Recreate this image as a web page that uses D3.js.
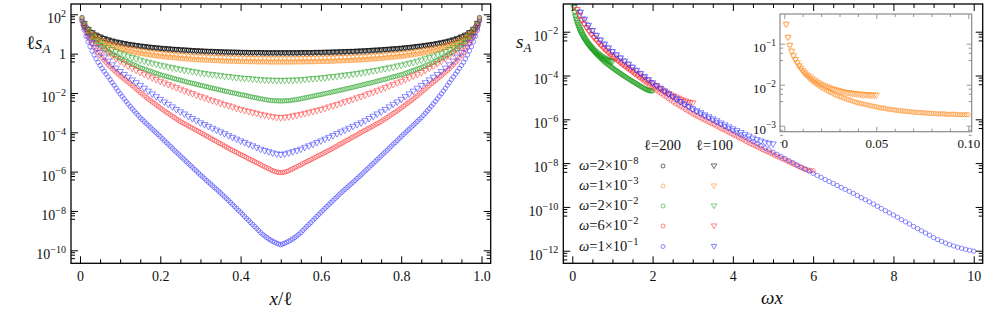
<!DOCTYPE html>
<html>
<head>
<meta charset="utf-8">
<script src="https://cdn.jsdelivr.net/npm/d3@7"></script>
<style>
  body { margin: 0; background: #fff; }
</style>
</head>
<body>
<div id="chart"></div>
<script>
// log10(l * s_A) on the sites x = 1 .. l/2 (the chain is symmetric about l/2)
var w2e8_L200 = [1.84,1.54,1.37,1.24,1.15,1.07,1.00,0.94,0.89,0.85,
  0.81,0.77,0.73,0.70,0.67,0.64,0.62,0.59,0.57,0.55,
  0.53,0.51,0.49,0.47,0.46,0.44,0.43,0.41,0.40,0.38,
  0.37,0.36,0.35,0.33,0.32,0.31,0.30,0.29,0.28,0.27,
  0.26,0.25,0.24,0.24,0.23,0.22,0.21,0.21,0.20,0.19,
  0.18,0.18,0.17,0.17,0.16,0.15,0.15,0.14,0.14,0.13,
  0.13,0.12,0.12,0.11,0.11,0.11,0.10,0.10,0.09,0.09,
  0.09,0.08,0.08,0.08,0.07,0.07,0.07,0.07,0.06,0.06,
  0.06,0.06,0.06,0.05,0.05,0.05,0.05,0.05,0.05,0.05,
  0.04,0.04,0.04,0.04,0.04,0.04,0.04,0.04,0.04,0.04];
var w2e8_L100 = [1.55,1.25,1.08,0.95,0.86,0.78,0.71,0.65,0.60,0.56,
  0.52,0.48,0.45,0.42,0.39,0.37,0.34,0.32,0.30,0.28,
  0.26,0.25,0.23,0.22,0.20,0.19,0.18,0.16,0.15,0.14,
  0.13,0.12,0.12,0.11,0.10,0.09,0.09,0.08,0.08,0.07,
  0.07,0.06,0.06,0.06,0.06,0.05,0.05,0.05,0.05,0.05];
var w1e3_L200 = [1.78,1.46,1.27,1.12,1.01,0.92,0.84,0.76,0.70,0.64,
  0.58,0.53,0.49,0.44,0.40,0.37,0.33,0.30,0.27,0.24,
  0.21,0.19,0.16,0.14,0.12,0.10,0.07,0.05,0.03,0.01,
  0.00,-0.02,-0.04,-0.05,-0.07,-0.08,-0.10,-0.11,-0.13,-0.14,
  -0.15,-0.16,-0.17,-0.18,-0.19,-0.20,-0.21,-0.22,-0.23,-0.24,
  -0.25,-0.26,-0.27,-0.27,-0.28,-0.29,-0.30,-0.30,-0.31,-0.32,
  -0.32,-0.33,-0.33,-0.34,-0.34,-0.35,-0.35,-0.36,-0.36,-0.37,
  -0.37,-0.37,-0.38,-0.38,-0.38,-0.39,-0.39,-0.39,-0.40,-0.40,
  -0.40,-0.40,-0.41,-0.41,-0.41,-0.41,-0.41,-0.42,-0.42,-0.42,
  -0.42,-0.42,-0.42,-0.43,-0.43,-0.43,-0.43,-0.43,-0.43,-0.43];
var w1e3_L100 = [1.48,1.16,0.96,0.82,0.71,0.62,0.54,0.47,0.41,0.35,
  0.30,0.26,0.22,0.19,0.15,0.12,0.09,0.06,0.04,0.01,
  -0.01,-0.03,-0.05,-0.06,-0.08,-0.10,-0.11,-0.12,-0.14,-0.15,
  -0.16,-0.17,-0.18,-0.19,-0.19,-0.20,-0.21,-0.21,-0.22,-0.22,
  -0.23,-0.23,-0.24,-0.24,-0.24,-0.25,-0.25,-0.25,-0.25,-0.25];
var w2e2_L200 = [1.77,1.43,1.22,1.05,0.92,0.81,0.70,0.60,0.51,0.43,
  0.35,0.27,0.19,0.12,0.05,-0.01,-0.07,-0.13,-0.18,-0.24,
  -0.29,-0.34,-0.39,-0.44,-0.49,-0.54,-0.58,-0.62,-0.67,-0.71,
  -0.75,-0.78,-0.82,-0.86,-0.89,-0.93,-0.97,-1.00,-1.04,-1.07,
  -1.10,-1.13,-1.16,-1.18,-1.21,-1.24,-1.27,-1.30,-1.32,-1.35,
  -1.38,-1.40,-1.43,-1.46,-1.48,-1.51,-1.53,-1.56,-1.58,-1.61,
  -1.63,-1.66,-1.68,-1.71,-1.73,-1.76,-1.78,-1.80,-1.83,-1.85,
  -1.87,-1.90,-1.92,-1.94,-1.97,-1.99,-2.01,-2.03,-2.06,-2.08,
  -2.10,-2.12,-2.14,-2.17,-2.19,-2.21,-2.23,-2.25,-2.27,-2.30,
  -2.31,-2.33,-2.35,-2.36,-2.38,-2.39,-2.39,-2.40,-2.40,-2.41];
var w2e2_L100 = [1.47,1.12,0.90,0.71,0.56,0.43,0.32,0.22,0.12,0.03,
  -0.05,-0.12,-0.19,-0.25,-0.32,-0.37,-0.43,-0.48,-0.53,-0.58,
  -0.62,-0.67,-0.71,-0.75,-0.79,-0.83,-0.86,-0.90,-0.93,-0.97,
  -1.00,-1.03,-1.06,-1.08,-1.11,-1.14,-1.16,-1.18,-1.21,-1.23,
  -1.25,-1.26,-1.28,-1.30,-1.32,-1.33,-1.34,-1.34,-1.35,-1.35];
var w6e2_L200 = [1.71,1.32,1.06,0.84,0.66,0.49,0.33,0.18,0.05,-0.08,
  -0.21,-0.33,-0.44,-0.55,-0.65,-0.76,-0.85,-0.94,-1.03,-1.12,
  -1.20,-1.29,-1.37,-1.45,-1.53,-1.62,-1.71,-1.80,-1.88,-1.97,
  -2.05,-2.14,-2.22,-2.30,-2.38,-2.46,-2.53,-2.61,-2.68,-2.76,
  -2.83,-2.91,-2.98,-3.04,-3.11,-3.18,-3.25,-3.32,-3.38,-3.45,
  -3.51,-3.56,-3.62,-3.68,-3.73,-3.79,-3.84,-3.90,-3.95,-4.01,
  -4.07,-4.13,-4.18,-4.24,-4.29,-4.36,-4.41,-4.46,-4.53,-4.58,
  -4.63,-4.70,-4.75,-4.81,-4.87,-4.92,-4.97,-5.02,-5.08,-5.13,
  -5.18,-5.23,-5.28,-5.34,-5.39,-5.44,-5.49,-5.54,-5.59,-5.65,
  -5.70,-5.75,-5.80,-5.85,-5.90,-5.95,-5.99,-6.02,-6.04,-6.05];
var w6e2_L100 = [1.41,1.02,0.76,0.54,0.36,0.19,0.04,-0.11,-0.25,-0.38,
  -0.50,-0.62,-0.73,-0.84,-0.95,-1.04,-1.13,-1.22,-1.31,-1.40,
  -1.48,-1.56,-1.64,-1.72,-1.80,-1.88,-1.95,-2.02,-2.10,-2.17,
  -2.24,-2.31,-2.38,-2.44,-2.51,-2.58,-2.64,-2.70,-2.77,-2.83,
  -2.88,-2.93,-2.98,-3.03,-3.08,-3.12,-3.16,-3.20,-3.23,-3.25];
var w1e1_L200 = [1.65,1.20,0.88,0.60,0.36,0.14,-0.07,-0.26,-0.44,-0.60,
  -0.75,-0.90,-1.04,-1.18,-1.32,-1.47,-1.61,-1.76,-1.90,-2.04,
  -2.17,-2.30,-2.43,-2.56,-2.68,-2.80,-2.91,-3.03,-3.14,-3.26,
  -3.35,-3.45,-3.55,-3.64,-3.74,-3.84,-3.93,-4.03,-4.12,-4.22,
  -4.32,-4.42,-4.52,-4.61,-4.71,-4.81,-4.91,-5.01,-5.10,-5.20,
  -5.30,-5.39,-5.49,-5.59,-5.68,-5.78,-5.88,-5.97,-6.07,-6.17,
  -6.26,-6.35,-6.45,-6.54,-6.63,-6.72,-6.81,-6.90,-6.99,-7.08,
  -7.18,-7.28,-7.37,-7.47,-7.57,-7.67,-7.77,-7.87,-7.97,-8.07,
  -8.17,-8.28,-8.38,-8.48,-8.59,-8.69,-8.79,-8.89,-8.99,-9.10,
  -9.19,-9.27,-9.35,-9.42,-9.48,-9.54,-9.59,-9.64,-9.68,-9.72];
var w1e1_L100 = [1.35,0.90,0.58,0.30,0.06,-0.16,-0.37,-0.56,-0.73,-0.90,
  -1.05,-1.19,-1.33,-1.47,-1.61,-1.75,-1.90,-2.04,-2.18,-2.32,
  -2.45,-2.57,-2.70,-2.83,-2.95,-3.06,-3.18,-3.29,-3.40,-3.51,
  -3.60,-3.69,-3.79,-3.88,-3.97,-4.06,-4.16,-4.25,-4.34,-4.43,
  -4.51,-4.60,-4.68,-4.76,-4.85,-4.92,-4.98,-5.04,-5.09,-5.12];

var omegas = [2e-8, 1e-3, 2e-2, 6e-2, 1e-1];
var omegaMant = ["2", "1", "2", "6", "1"];
var omegaExp = ["−8", "−3", "−2", "−2", "−1"];
var chainSizes = [200, 100];
var colors = ["#000000", "#ff8a1c", "#1fa01f", "#ff2a2a", "#2a2aff"];

// tick labels
var leftXTicks = [0, 0.2, 0.4, 0.6, 0.8, 1.0];
var leftXLabels = ["0", "0.2", "0.4", "0.6", "0.8", "1.0"];
var leftYTicks = [1e2, 1, 1e-2, 1e-4, 1e-6, 1e-8, 1e-10];
var rightXTicks = [0, 2, 4, 6, 8, 10];
var rightYTicks = [1e-2, 1e-4, 1e-6, 1e-8, 1e-10, 1e-12];
var insetXTicks = [0, 0.05, 0.10];
var insetXLabels = ["0", "0.05", "0.10"];
var insetYTicks = [1e-1, 1e-2, 1e-3];
var logMinorFactors = [0.8, 0.6, 0.4];

var halfData = [
  [w2e8_L200, w2e8_L100],
  [w1e3_L200, w1e3_L100],
  [w2e2_L200, w2e2_L100],
  [w6e2_L200, w6e2_L100],
  [w1e1_L200, w1e1_L100]
];

var FONT = "'Liberation Serif', 'Times New Roman', 'DejaVu Serif', serif";

var svg = d3.select("#chart").append("svg")
    .attr("width", 1003)
    .attr("height", 325)
    .attr("font-family", FONT)
    .style("font-family", FONT);

var triSym = d3.symbol().type(d3.symbolTriangle).size(18);
var triSmall = d3.symbol().type(d3.symbolTriangle).size(13);

function logMinor(ticks) {
  var out = [];
  ticks.forEach(function(t) { logMinorFactors.forEach(function(f) { out.push(t * f); }); });
  return out;
}

function powLabel(sel, fs) {
  sel.each(function(d) {
    var t = d3.select(this), e = Math.round(Math.log10(d));
    t.text(null);
    if (e === 0) { t.text("1"); return; }
    t.attr("dy", "0.6em");
    t.append("tspan").text("10");
    t.append("tspan").attr("dy", -fs * 0.45).attr("font-size", fs * 0.72)
      .text(e < 0 ? "−" + (-e) : String(e));
  });
}

// frame with inward ticks on all four sides
function axes(g, x, y, c) {
  var xr = x.range(), yr = y.range();
  var left = xr[0], right = xr[1], bottom = yr[0], top = yr[1];
  var col = c.color || "#000";

  function put(gen, tx, ty) {
    var a = g.append("g").attr("transform", "translate(" + tx + "," + ty + ")").call(gen);
    a.select(".domain").remove();
    a.selectAll("line").attr("stroke", col).attr("stroke-width", c.tw || 1);
    a.attr("font-family", FONT).attr("font-size", c.fs);
    a.selectAll("text").attr("fill", "#111").style("font-family", FONT);
    return a;
  }
  // minor
  put(d3.axisBottom(x).tickValues(c.xMinor).tickSize(-c.minor).tickFormat(""), 0, bottom);
  put(d3.axisTop(x).tickValues(c.xMinor).tickSize(-c.minor).tickFormat(""), 0, top);
  put(d3.axisLeft(y).tickValues(c.yMinor).tickSize(-c.minor).tickFormat(""), left, 0);
  put(d3.axisRight(y).tickValues(c.yMinor).tickSize(-c.minor).tickFormat(""), right, 0);
  // major
  put(d3.axisBottom(x).tickValues(c.xMajor).tickSize(-c.major).tickPadding(c.xPad)
      .tickFormat(function(d, i) { return c.xLabels[i]; }), 0, bottom);
  put(d3.axisTop(x).tickValues(c.xMajor).tickSize(-c.major).tickFormat(""), 0, top);
  var ly = put(d3.axisLeft(y).tickValues(c.yMajor).tickSize(-c.major).tickPadding(c.yPad), left, 0);
  powLabel(ly.selectAll("text"), c.fs);
  put(d3.axisRight(y).tickValues(c.yMajor).tickSize(-c.major).tickFormat(""), right, 0);

  g.append("rect").attr("x", left).attr("y", top)
    .attr("width", right - left).attr("height", bottom - top)
    .attr("fill", "none").attr("stroke", col).attr("stroke-width", c.fw || 1.3);
}

function clipFor(id, x, y) {
  var xr = x.range(), yr = y.range();
  svg.append("clipPath").attr("id", id).append("rect")
    .attr("x", xr[0]).attr("y", yr[1]).attr("width", xr[1] - xr[0]).attr("height", yr[0] - yr[1]);
  return "url(#" + id + ")";
}

function marks(g, pts, x, y, color, tri) {
  if (tri) {
    g.selectAll(null).data(pts).enter().append("path")
      .attr("d", triSym)
      .attr("transform", function(d) { return "translate(" + x(d[0]) + "," + y(d[1]) + ") rotate(180)"; })
      .attr("fill", "none").attr("stroke", color).attr("stroke-width", 0.75).attr("stroke-opacity", 0.7);
  } else {
    g.selectAll(null).data(pts).enter().append("circle")
      .attr("cx", function(d) { return x(d[0]); })
      .attr("cy", function(d) { return y(d[1]); })
      .attr("r", 2.2)
      .attr("fill", "none").attr("stroke", color).attr("stroke-width", 0.75).attr("stroke-opacity", 0.7);
  }
}

// ---------- left panel: l s_A against x/l ----------
var xL = d3.scaleLinear().domain([-0.0224, 1.0229]).range([71, 490.7]);
var yL = d3.scaleLog().domain([Math.pow(10, -10.661), Math.pow(10, 2.524)]).range([263.3, 4]);

var gL = svg.append("g");
var pL = gL.append("g").attr("clip-path", clipFor("clipL", xL, yL));
halfData.forEach(function(pair, i) {
  pair.forEach(function(half, j) {
    var L = chainSizes[j], pts = [];
    for (var x = 1; x < L; x++) {
      var k = Math.min(x, L - x);
      pts.push([x / L, Math.pow(10, half[k - 1])]);
    }
    marks(pL, pts, xL, yL, colors[i], j === 1);
  });
});
axes(gL, xL, yL, {
  xMajor: leftXTicks, xLabels: leftXLabels,
  xMinor: d3.range(1, 20).filter(function(n) { return n % 4 !== 0; }).map(function(n) { return n * 0.05; }),
  yMajor: leftYTicks, yMinor: logMinor(leftYTicks),
  major: 7, minor: 4, fs: 14, xPad: 8, yPad: 5
});

// ---------- right panel: s_A against omega x ----------
var xR = d3.scaleLinear().domain([-0.2242, 10.224]).range([563.3, 982.7]);
var yR = d3.scaleLog().domain([Math.pow(10, -12.575), Math.pow(10, -0.735)]).range([263.3, 4]);

var gR = svg.append("g");
var pR = gR.append("g").attr("clip-path", clipFor("clipR", xR, yR));
[2, 3, 4].forEach(function(i) {
  halfData[i].forEach(function(half, j) {
    var L = chainSizes[j];
    var pts = half.map(function(v, n) { return [omegas[i] * (n + 1), Math.pow(10, v) / L]; });
    marks(pR, pts, xR, yR, colors[i], j === 1);
  });
});
axes(gR, xR, yR, {
  xMajor: rightXTicks, xLabels: rightXTicks.map(String),
  xMinor: d3.range(1, 20).filter(function(n) { return n % 4 !== 0; }).map(function(n) { return n * 0.5; }),
  yMajor: rightYTicks, yMinor: logMinor(rightYTicks),
  major: 7, minor: 4, fs: 14, xPad: 8, yPad: 5
});

// legend
var legRows = [165, 185, 205, 225, 245.5];
var leg = gR.append("g").attr("font-size", 14.5).attr("fill", "#111");
leg.append("text").attr("x", 644).attr("y", 150)
  .call(function(t) { t.append("tspan").text("ℓ"); t.append("tspan").text("=200"); });
leg.append("text").attr("x", 696).attr("y", 150)
  .call(function(t) { t.append("tspan").text("ℓ"); t.append("tspan").text("=100"); });
omegas.forEach(function(w, i) {
  var t = leg.append("text").attr("x", 579).attr("y", legRows[i] + 5);
  t.append("tspan").attr("font-style", "italic").text("ω");
  t.append("tspan").text("=" + omegaMant[i] + "×10");
  t.append("tspan").attr("dy", -6).attr("font-size", 10.5).text(omegaExp[i]);
  leg.append("circle").attr("cx", 663).attr("cy", legRows[i] + 1).attr("r", 2)
    .attr("fill", "none").attr("stroke", colors[i]).attr("stroke-width", 0.75).attr("stroke-opacity", 0.75);
  leg.append("path").attr("d", triSmall)
    .attr("transform", "translate(714," + (legRows[i] + 0.5) + ") rotate(180)")
    .attr("fill", "none").attr("stroke", colors[i]).attr("stroke-width", 0.75).attr("stroke-opacity", 0.75);
});

// ---------- inset: omega = 1e-3 ----------
var xI = d3.scaleLinear().domain([-0.00234, 0.10185]).range([780, 971.7]);
var yI = d3.scaleLog().domain([Math.pow(10, -3.146), Math.pow(10, -0.2756)]).range([131.7, 14]);
var gI = svg.append("g");
gI.append("rect").attr("x", 780).attr("y", 14).attr("width", 191.7).attr("height", 117.7).attr("fill", "#fff");
var pI = gI.append("g").attr("clip-path", clipFor("clipI", xI, yI));
halfData[1].forEach(function(half, j) {
  var L = chainSizes[j];
  var pts = half.map(function(v, n) { return [omegas[1] * (n + 1), Math.pow(10, v) / L]; });
  marks(pI, pts, xI, yI, colors[1], j === 1);
});
axes(gI, xI, yI, {
  xMajor: insetXTicks, xLabels: insetXLabels, xMinor: [0.01, 0.02, 0.03, 0.04, 0.06, 0.07, 0.08, 0.09],
  yMajor: insetYTicks, yMinor: logMinor(insetYTicks),
  major: 5, minor: 3, fs: 13, xPad: 7, yPad: 4, color: "#8a8a8a", fw: 1.2, tw: 0.9
});

// ---------- axis titles ----------
var lab = svg.append("g").attr("fill", "#111");
lab.append("text").attr("x", 26).attr("y", 49).attr("font-size", 19)
  .call(function(t) {
    t.append("tspan").text("ℓ");
    t.append("tspan").attr("font-style", "italic").text("s");
    t.append("tspan").attr("font-style", "italic").attr("font-size", 13).attr("dy", 4).text("A");
  });
lab.append("text").attr("x", 516).attr("y", 48).attr("font-size", 19)
  .call(function(t) {
    t.append("tspan").attr("font-style", "italic").text("s");
    t.append("tspan").attr("font-style", "italic").attr("font-size", 13).attr("dy", 4).text("A");
  });
lab.append("text").attr("x", 281).attr("y", 305).attr("font-size", 19).attr("text-anchor", "middle")
  .call(function(t) {
    t.append("tspan").attr("font-style", "italic").text("x");
    t.append("tspan").text("/ℓ");
  });
lab.append("text").attr("x", 772).attr("y", 304).attr("font-size", 19).attr("text-anchor", "middle")
  .attr("font-style", "italic").text("ωx");

svg.selectAll("text").style("font-family", FONT);
</script>
</body>
</html>
